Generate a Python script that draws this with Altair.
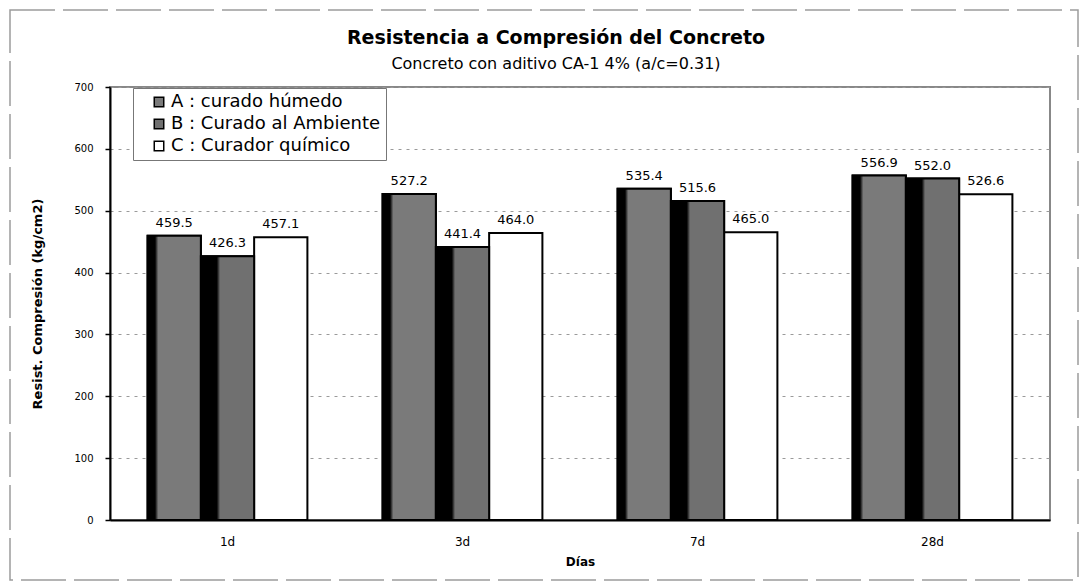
import altair as alt
import pandas as pd

# Compressive strength of concrete with CA-1 admixture, by curing method
dias = ["1d", "3d", "7d", "28d"]
series = ["A : curado húmedo", "B : Curado al Ambiente", "C : Curador químico"]
curado_humedo = [459.5, 527.2, 535.4, 556.9]
curado_ambiente = [426.3, 441.4, 515.6, 552.0]
curador_quimico = [457.1, 464.0, 465.0, 526.6]

rows = []
for serie, valores in zip(series, [curado_humedo, curado_ambiente, curador_quimico]):
    for dia, v in zip(dias, valores):
        rows.append({"dia": dia, "serie": serie, "valor": v})
df = pd.DataFrame(rows)

FONT = "DejaVu Sans"
W, H = 940, 433
GRAY_A = "#7a7a7a"
GRAY_B = "#707070"

base = alt.Chart(df).encode(
    x=alt.X(
        "dia:N",
        sort=dias,
        scale=alt.Scale(paddingInner=0.32, paddingOuter=0.16),
        axis=alt.Axis(
            title="Días",
            labelAngle=0,
            ticks=False,
            tickSize=0,
            labelFontSize=12,
            labelPadding=16,
            labelColor="black",
            domainColor="black",
            domainWidth=2,
            titleFontSize=12,
            titleFontWeight="bold",
            titleColor="black",
            titleY=36,
            titleBaseline="top",
        ),
    ),
    xOffset=alt.XOffset(
        "serie:N", sort=series,
        scale=alt.Scale(domain=series, paddingInner=0, paddingOuter=0),
    ),
    y=alt.Y(
        "valor:Q",
        scale=alt.Scale(domain=[0, 700], nice=False),
        axis=alt.Axis(
            values=list(range(0, 701, 100)),
            format="d",
            title="Resist. Compresión (kg/cm2)",
            titleFontSize=13,
            titleFontWeight="bold",
            titleColor="black",
            titleAngle=-90,
            titleX=-73,
            titleY=H / 2,
            titleAlign="center",
            titleBaseline="middle",
            labelFontSize=10,
            labelColor="black",
            labelPadding=12,
            tickSize=5,
            tickColor="black",
            tickWidth=1.5,
            domainColor="black",
            domainWidth=2,
            grid=True,
            gridColor="#9a9a9a",
            gridDash=[3, 5],
            gridWidth=1,
        ),
    ),
)

bars = base.mark_bar(stroke="black", strokeWidth=2).encode(
    color=alt.Color(
        "serie:N",
        sort=series,
        scale=alt.Scale(domain=series, range=[GRAY_A, GRAY_B, "#ffffff"]),
        legend=alt.Legend(
            title=None,
            orient="none",
            legendX=23,
            legendY=1,
            fillColor="white",
            strokeColor="#777777",
            padding=5,
            symbolOffset=12,
            symbolType="square",
            symbolSize=90,
            symbolStrokeColor="black",
            symbolStrokeWidth=1.5,
            symbolOpacity=1,
            labelFontSize=18,
            labelFont=FONT,
            labelColor="black",
            labelOffset=3,
            labelLimit=400,
            rowPadding=4,
        ),
    )
)


def shaded(serie, frac, gray):
    # dark band on the left side of the bar
    grad = alt.LinearGradient(
        gradient="linear",
        stops=[
            alt.GradientStop(offset=0, color="black"),
            alt.GradientStop(offset=frac, color="black"),
            alt.GradientStop(offset=frac + 0.06, color=gray),
            alt.GradientStop(offset=1, color=gray),
        ],
        x1=0, x2=1, y1=0, y2=0,
    )
    return base.mark_bar(color=grad, stroke="black", strokeWidth=2).transform_filter(
        alt.datum.serie == serie
    )


shade_a = shaded(series[0], 0.14, GRAY_A)
shade_b = shaded(series[1], 0.30, GRAY_B)

labels = base.mark_text(
    baseline="bottom", dy=-6, fontSize=13, font=FONT, color="black"
).encode(text=alt.Text("valor:Q", format=".1f"))

frame = alt.Chart(pd.DataFrame({"k": [0]})).mark_rect(
    fill="transparent", stroke="#9c9c9c", strokeWidth=1.5, strokeDash=[45, 8]
).encode(
    x=alt.value(-100), x2=alt.value(968), y=alt.value(-77), y2=alt.value(493)
)

chart = (
    alt.layer(frame, bars, shade_a, shade_b, labels)
    .properties(
        width=W,
        height=H,
        autosize=alt.AutoSizeParams(type="none"),
        padding={"left": 110, "top": 87, "right": 35, "bottom": 68},
        background="white",
        title=alt.TitleParams(
            text="Resistencia a Compresión del Concreto",
            subtitle="Concreto con aditivo CA-1 4% (a/c=0.31)",
            font=FONT,
            fontSize=19,
            fontWeight="bold",
            color="black",
            subtitleFont=FONT,
            subtitleFontSize=16,
            subtitleColor="black",
            subtitlePadding=8,
            anchor="middle",
            dx=-24,
            offset=-63,
        ),
    )
    .configure_view(stroke="#888888", strokeWidth=2)
    .configure_axis(labelFont=FONT, titleFont=FONT)
)

chart.save("out.html", embed_options={"renderer": "svg", "actions": False})
